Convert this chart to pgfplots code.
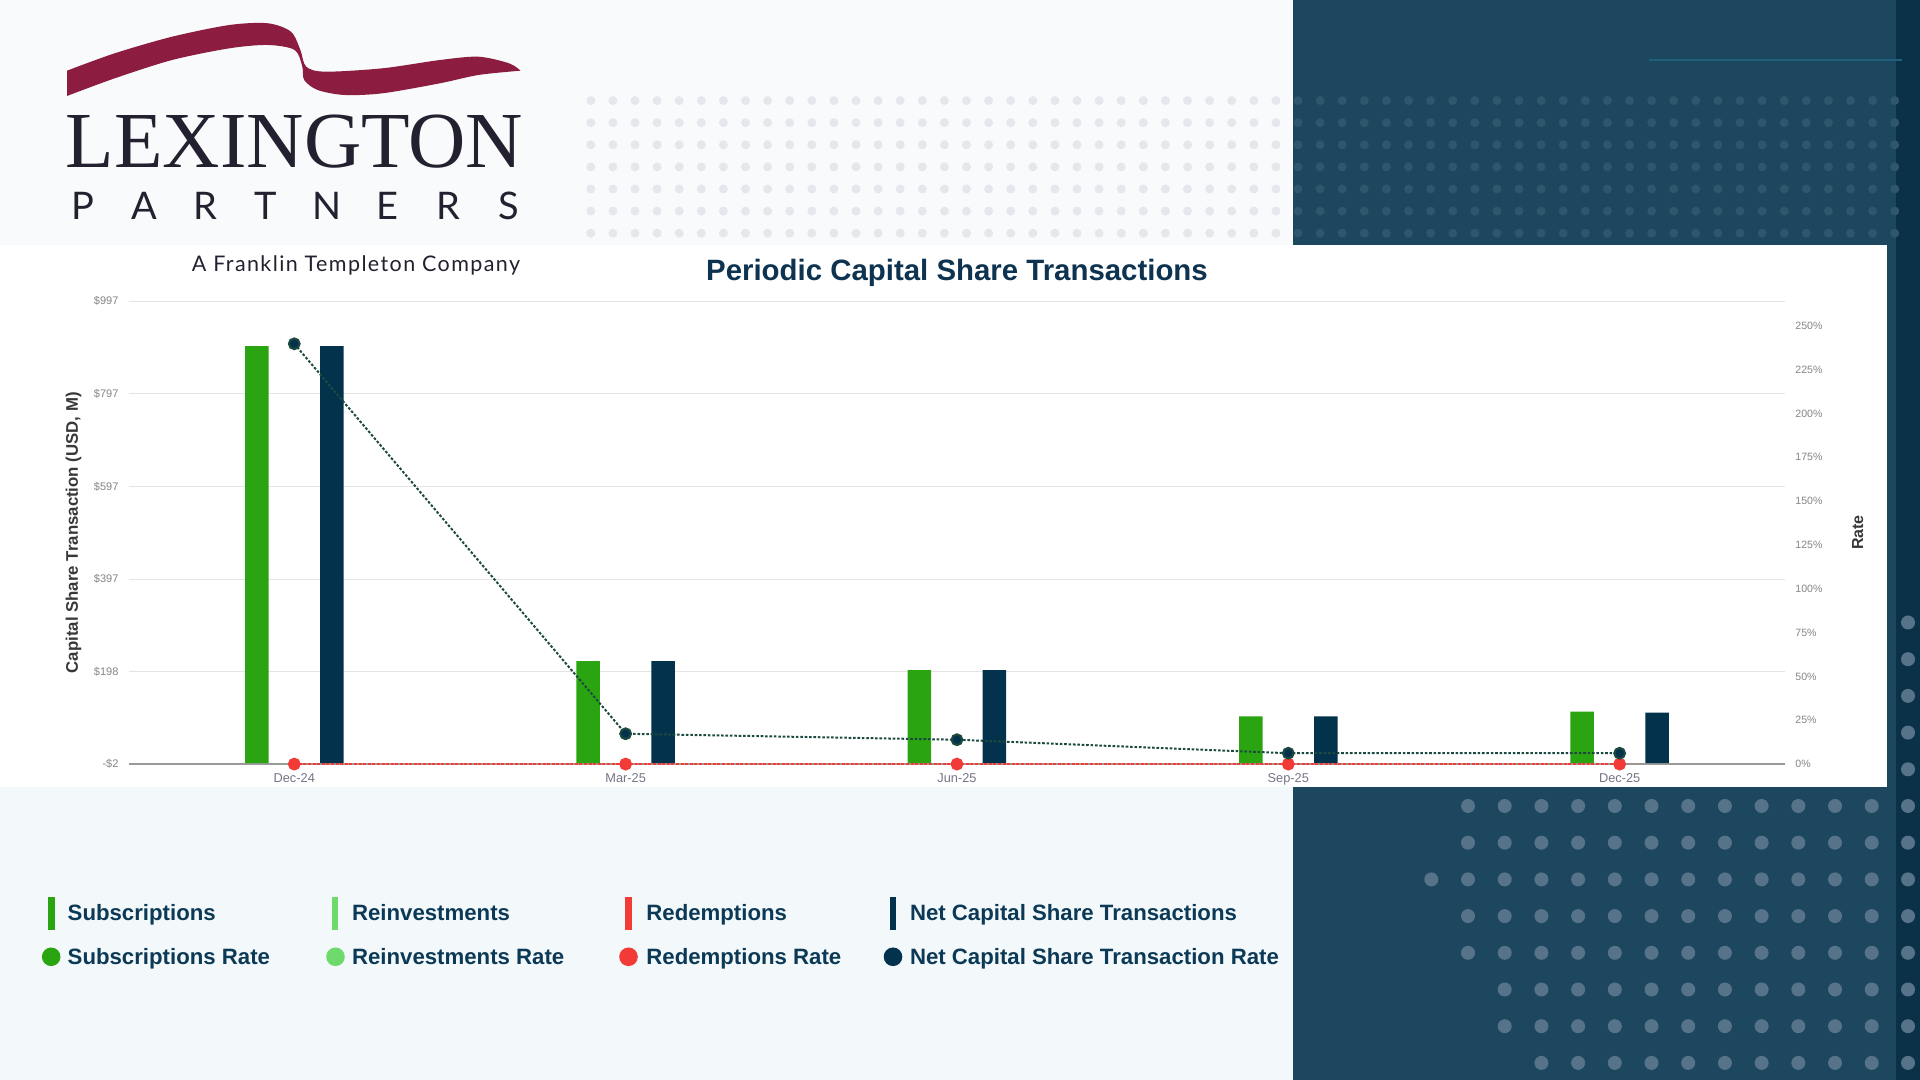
\documentclass[border=0pt]{standalone}
\usepackage{fontspec}
\setmainfont{Liberation Sans}
\newfontfamily\serifl{Liberation Serif}
\newfontfamily\lato{Lato}
\newfontfamily\latosp[LetterSpace=6.5]{Lato}
\usepackage{pgfplots}
\usepackage{pgfplotstable}
\pgfplotsset{compat=1.18}

\definecolor{subsgreen}{HTML}{2AA511}
\definecolor{reinvgreen}{HTML}{6FDA6C}
\definecolor{redmp}{HTML}{F23B36}
\definecolor{navybar}{HTML}{03334C}
\definecolor{rateline}{HTML}{1D4A40}
\definecolor{titlecol}{HTML}{0D3350}
\definecolor{legtext}{HTML}{0C3A56}
\definecolor{gridgray}{HTML}{E4E4E4}
\definecolor{axisgray}{HTML}{9A9A9A}
\definecolor{tickgray}{HTML}{858585}
\definecolor{xtickgray}{HTML}{757487}
\definecolor{labelgray}{HTML}{383838}
\definecolor{darkpanel}{HTML}{1D475F}
\definecolor{darkstrip}{HTML}{0B3149}
\definecolor{dotdark}{HTML}{2E566C}
\definecolor{dotlow}{HTML}{56738A}
\definecolor{dotlight}{HTML}{E4E8EC}
\definecolor{bgcol}{HTML}{F3F8FB}
\definecolor{toptint}{HTML}{F9FAFB}
\definecolor{maroon}{HTML}{8C1D40}
\definecolor{logotext}{HTML}{23212F}
\definecolor{thinline}{HTML}{1F5F7B}

\pgfplotstableread{
x subs reinv redm net
0 900 0 0 900
1 220 0 0 220
2 201 0 0 201
3 101 0 0 101
4 111 0 0 109
}\bars

\pgfplotstableread{
x subsrate reinvrate redmrate netrate
0 239.7 0 0 239.7
1 17.3 0 0 17.3
2 13.9 0 0 13.9
3 6.2 0 0 6.2
4 6.2 0 0 6.2
}\rates

\begin{document}
\begin{tikzpicture}
\begin{scope}[x=0.5pt,y=0.5pt]
  \path[use as bounding box] (0,0) rectangle (1920,1080);
  % background
  \fill[bgcol] (0,0) rectangle (1920,1080);
  \fill[toptint] (0,835) rectangle (1293,1080);
  \fill[darkpanel] (1293,0) rectangle (1920,1080);
  \fill[darkstrip] (1896,0) rectangle (1920,1080);
  \draw[thinline, line width=0.75pt] (1649,1020) -- (1902,1020);
  % top dot grid
  \foreach \i in {-32,...,-1}{\foreach \j in {0,...,6}{
    \fill[dotlight] ({1298+22.1*\i},{979.4-22.1*\j}) circle[radius=4.5];}}
  \foreach \i in {0,...,27}{\foreach \j in {0,...,6}{
    \fill[dotdark] ({1298+22.1*\i},{979.4-22.1*\j}) circle[radius=4.5];}}
  % bottom dot grid
  \foreach \m/\ks in {0/0,1/0,2/-1,3/0,4/0,5/1,6/1,7/2}{\foreach \k in {\ks,...,11}{
    \fill[dotlow] ({1468+36.7*\k},{274-36.7*\m}) circle[radius=7];}}
  \foreach \m in {-5,...,7}{\fill[dotlow] (1908,{274-36.7*\m}) circle[radius=7];}
  % white chart panel
  \fill[white] (0,292.5) rectangle (1886.5,835);
  % logo swoosh
  \fill[maroon] plot[smooth, tension=0.5] coordinates {(67,1009.3) (114.8,1026.7) (172.2,1043.3) (229.6,1055) (267.9,1056.7) (290.9,1048.3) (300.4,1030) (306.2,1013.3) (325.3,1008.3) (382.7,1011.7) (440.1,1020) (478.4,1023.3) (509,1016.7) (520.5,1009.3)}
    -- plot[smooth, tension=0.5] coordinates {(520.5,1009.3) (478.4,1005) (440.1,996.7) (382.7,986.7) (344.4,985) (317.6,990) (304.2,1000) (302.3,1013.3) (294.7,1030) (267.9,1035) (229.6,1031.7) (172.2,1020) (114.8,1001.7) (67,984)} -- cycle;
  \node[anchor=base, inner sep=0pt, text=logotext, font=\serifl\fontsize{39.7}{41}\selectfont] at (294.5,912.3) {LEXINGTON};
  \foreach \c [count=\n from 0] in {P,A,R,T,N,E,R,S}{
    \node[anchor=base, inner sep=0pt, text=logotext, font=\lato\fontsize{19}{20}\selectfont] at ({83.4+60.8*\n},860) {\c};}
  \node[anchor=base east, inner sep=0pt, text=logotext, font=\latosp\fontsize{10.75}{12}\selectfont] at (520.5,808.3) {A Franklin Templeton Company};
  % legend
  \foreach \xb/\xt/\col/\lab in {51.7/67.3/subsgreen/Subscriptions, 335/351.7/reinvgreen/Reinvestments, 628.5/646/redmp/Redemptions, 893/909.6/navybar/Net Capital Share Transactions}{
    \fill[\col] ({\xb-3.3},150) rectangle ({\xb+3.3},183.3);
    \node[anchor=base west, inner sep=0pt, text=legtext, font=\bfseries\fontsize{11.1}{13}\selectfont] at (\xt,159.3) {\lab};}
  \foreach \xb/\xt/\col/\lab in {51.2/67.3/subsgreen/Subscriptions Rate, 335.5/351.7/reinvgreen/Reinvestments Rate, 628.5/646/redmp/Redemptions Rate, 893/909.6/navybar/Net Capital Share Transaction Rate}{
    \fill[\col] (\xb,123.2) circle[radius=9.3];
    \node[anchor=base west, inner sep=0pt, text=legtext, font=\bfseries\fontsize{11.1}{13}\selectfont] at (\xt,115) {\lab};}
\end{scope}

% bars axis (left)
\begin{axis}[
  at={(64.3pt,157.95pt)}, anchor=south west,
  scale only axis, width=828.35pt, height=231.45pt,
  xmin=-0.5, xmax=4.5, ymin=-2, ymax=997,
  xtick={0,1,2,3,4}, xticklabels={Dec-24,Mar-25,Jun-25,Sep-25,Dec-25},
  ytick={-2,198,397,597,797,997},
  yticklabels={-\$2,\$198,\$397,\$597,\$797,\$997},
  major tick length=0pt,
  ymajorgrids, grid style={draw=gridgray, line width=0.6pt},
  axis x line*=bottom, axis y line*=left,
  x axis line style={-, draw=axisgray, line width=0.8pt},
  y axis line style={draw=none},
  yticklabel style={font=\fontsize{5.5}{6}\selectfont, text=tickgray, anchor=east, inner sep=0pt, xshift=-4.9pt},
  xticklabel style={font=\fontsize{6.4}{7}\selectfont, text=xtickgray, anchor=north, inner sep=0pt, yshift=-4.3pt},
  every axis y label/.style={at={(rel axis cs:0,0.5)}, xshift=-27.5pt, rotate=90, anchor=center},
  ylabel={Capital Share Transaction (USD, M)},
  ylabel style={font=\bfseries\fontsize{8.4}{9}\selectfont, text=labelgray},
  title={Periodic Capital Share Transactions},
  every axis title/.style={at={(0.5,1)}, anchor=center, yshift=14.2pt},
  title style={font=\bfseries\fontsize{14.7}{16}\selectfont, text=titlecol},
  ybar, bar width=11.75pt,
]
\addplot[fill=subsgreen, draw=none, bar shift=-18.75pt] table[x=x,y=subs]{\bars};
\addplot[fill=reinvgreen, draw=none, bar shift=-6.25pt] table[x=x,y=reinv]{\bars};
\addplot[fill=redmp, draw=none, bar shift=6.25pt] table[x=x,y=redm]{\bars};
\addplot[fill=navybar, draw=none, bar shift=18.75pt] table[x=x,y=net]{\bars};
\end{axis}

% rates axis (right)
\begin{axis}[
  at={(64.3pt,157.95pt)}, anchor=south west,
  scale only axis, width=828.35pt, height=231.45pt,
  xmin=-0.5, xmax=4.5, ymin=0, ymax=264,
  axis x line=none, xtick=\empty,
  axis y line*=right, y axis line style={draw=none},
  ytick={0,25,50,75,100,125,150,175,200,225,250},
  yticklabels={0\%,25\%,50\%,75\%,100\%,125\%,150\%,175\%,200\%,225\%,250\%},
  major tick length=0pt,
  yticklabel style={font=\fontsize{5.3}{6}\selectfont, text=tickgray, anchor=west, inner sep=0pt, xshift=4.85pt},
  every axis y label/.style={at={(rel axis cs:1,0.5)}, xshift=36.2pt, rotate=90, anchor=center},
  ylabel={Rate},
  ylabel style={font=\bfseries\fontsize{8}{9}\selectfont, text=labelgray},
  clip=false,
]
\addplot[only marks, mark=*, mark size=2.7pt, mark options={fill=subsgreen, draw=none}] table[x=x,y=subsrate]{\rates};
\addplot[only marks, mark=*, mark size=2.7pt, mark options={fill=reinvgreen, draw=none}] table[x=x,y=reinvrate]{\rates};
\addplot[redmp, line width=1pt, dash pattern=on 1.5pt off 0.8pt, mark=*, mark size=2.7pt, mark options={solid, fill=redmp, draw=none}] table[x=x,y=redmrate]{\rates};
\addplot[rateline, line width=1pt, dash pattern=on 1.3pt off 0.9pt, mark=*, mark size=2.7pt, mark options={solid, fill=navybar, draw=none}] table[x=x,y=netrate]{\rates};
\end{axis}
\end{tikzpicture}
\end{document}
